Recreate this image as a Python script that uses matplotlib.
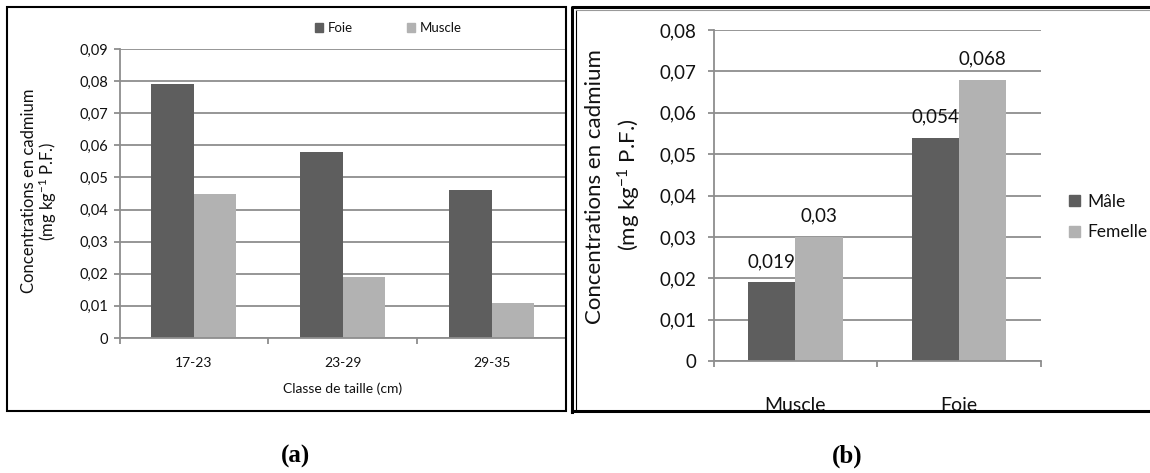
import matplotlib
matplotlib.use("Agg")
import matplotlib.pyplot as plt
from matplotlib.patches import Patch, Rectangle
from matplotlib.ticker import FuncFormatter, FixedLocator
from matplotlib.lines import Line2D

W, H = 1150, 473

# panel (a): cadmium by size class
SIZE_CLASSES = ["17-23", "23-29", "29-35"]
FOIE_A = [0.079, 0.058, 0.046]
MUSCLE_A = [0.045, 0.019, 0.011]
LEGEND_A = ["Foie", "Muscle"]

# panel (b): cadmium by sex
TISSUES = ["Muscle", "Foie"]
MALE_B = [0.019, 0.054]
FEMALE_B = [0.030, 0.068]
LEGEND_B = ["Mâle", "Femelle"]

YLABEL_1 = "Concentrations en cadmium"
YLABEL_2 = r"(mg kg$^{-1}$ P.F.)"

DARK = "#5e5e5e"
LIGHT = "#b2b2b2"
GRID = "#8e8e8e"
TXT = "#111111"

plt.rcParams["font.family"] = ["Lato", "DejaVu Sans"]
plt.rcParams["mathtext.default"] = "regular"


def px_axes(fig, left, top, right, bottom):
    return fig.add_axes([left / W, 1 - bottom / H, (right - left) / W, (bottom - top) / H])


def comma_fmt(v, pos=None):
    if abs(v) < 1e-12:
        return "0"
    return f"{v:.2f}".replace(".", ",")


def style_axes(ax, ymax, step, tick_size, ypad):
    ax.set_ylim(0, ymax)
    ax.set_yticks([i * step for i in range(int(round(ymax / step)) + 1)])
    ax.yaxis.set_major_formatter(FuncFormatter(comma_fmt))
    ax.grid(axis="y", color=GRID, linewidth=1.3)
    ax.set_axisbelow(True)
    for side in ["top", "right"]:
        ax.spines[side].set_visible(False)
    for side in ["left", "bottom"]:
        ax.spines[side].set_color(GRID)
        ax.spines[side].set_linewidth(1.3)
    ax.tick_params(axis="y", length=4, width=1.3, color=GRID, pad=ypad,
                   labelsize=tick_size, labelcolor=TXT)
    ax.tick_params(axis="x", which="major", length=0)
    ax.tick_params(axis="x", which="minor", length=4, width=1.3, color=GRID)


def main():
    fig = plt.figure(figsize=(W / 100, H / 100), dpi=100)

    # ---- panel (a)
    ax_a = px_axes(fig, 119.5, 49, 566, 338)
    n = len(SIZE_CLASSES)
    bw = 1 / 3.5
    xs = list(range(n))
    ax_a.bar([x - bw / 2 for x in xs], FOIE_A, width=bw, color=DARK)
    ax_a.bar([x + bw / 2 for x in xs], MUSCLE_A, width=bw, color=LIGHT)
    ax_a.set_xlim(-0.5, n - 0.5)
    style_axes(ax_a, 0.09, 0.01, 10.5, 4.3)
    ax_a.set_xticks(xs)
    ax_a.set_xticklabels(SIZE_CLASSES)
    ax_a.xaxis.set_minor_locator(FixedLocator([i + 0.5 for i in range(-1, n)]))
    ax_a.tick_params(axis="x", which="major", pad=14, labelsize=10, labelcolor=TXT)
    ax_a.set_xlabel("Classe de taille (cm)", fontsize=10, color=TXT)
    ax_a.xaxis.set_label_coords(0.5, -(389 - 338) / 289)
    ax_a.xaxis.label.set_va("center")

    handles_a = [Patch(color=DARK), Patch(color=LIGHT)]
    fig.legend(handles_a, LEGEND_A, loc="center", bbox_to_anchor=(388.5 / W, 1 - 28 / H),
               ncol=2, frameon=False, fontsize=9.5, handlelength=0.62, handleheight=0.62,
               handletextpad=0.35, columnspacing=4.1, borderpad=0, labelcolor=TXT)

    fig.text(29 / W, 1 - 191 / H, YLABEL_1, rotation=90, ha="center", va="center",
             fontsize=12, color=TXT)
    fig.text(48 / W, 1 - 191 / H, YLABEL_2, rotation=90, ha="center", va="center",
             fontsize=12, color=TXT)

    # ---- panel (b)
    ax_b = px_axes(fig, 713.5, 30, 1041, 361)
    m = len(TISSUES)
    bw_b = 0.288
    xs_b = list(range(m))
    bars_m = ax_b.bar([x - bw_b / 2 for x in xs_b], MALE_B, width=bw_b, color=DARK)
    bars_f = ax_b.bar([x + bw_b / 2 for x in xs_b], FEMALE_B, width=bw_b, color=LIGHT)
    ax_b.set_xlim(-0.5, m - 0.5)
    style_axes(ax_b, 0.08, 0.01, 13.5, 8.0)
    ax_b.set_xticks(xs_b)
    ax_b.set_xticklabels(TISSUES)
    ax_b.xaxis.set_minor_locator(FixedLocator([i + 0.5 for i in range(-1, m)]))
    ax_b.tick_params(axis="x", which="major", pad=26, labelsize=14, labelcolor=TXT)

    for bars, vals in [(bars_m, MALE_B), (bars_f, FEMALE_B)]:
        for b, v in zip(bars, vals):
            label = f"{v:g}".replace(".", ",")
            ax_b.annotate(label, (b.get_x() + b.get_width() / 2, v), xytext=(0, 15),
                          textcoords="offset points", ha="center", va="center",
                          fontsize=13.5, color=TXT)

    handles_b = [Patch(color=DARK), Patch(color=LIGHT)]
    fig.legend(handles_b, LEGEND_B, loc="center left",
               bbox_to_anchor=(1069 / W, 1 - 217 / H), frameon=False, fontsize=12.5,
               handlelength=0.63, handleheight=0.63, handletextpad=0.4,
               labelspacing=0.85, borderpad=0, borderaxespad=0, labelcolor=TXT)

    fig.text(595 / W, 1 - 187 / H, YLABEL_1, rotation=90, ha="center", va="center",
             fontsize=16, color=TXT)
    fig.text(629 / W, 1 - 185 / H, YLABEL_2, rotation=90, ha="center", va="center",
             fontsize=16, color=TXT)

    # ---- frames drawn on top, in pixel coordinates
    ov = fig.add_axes([0, 0, 1, 1], zorder=10)
    ov.set_xlim(0, W)
    ov.set_ylim(H, 0)
    ov.axis("off")
    ov.patch.set_alpha(0)
    ov.add_patch(Rectangle((7, 7), 559, 404, fill=False, edgecolor="black", linewidth=1.5))
    # white strip below frame (b) hides the lower part of the tick labels
    ov.add_patch(Rectangle((572, 411), W - 572, 20, facecolor="white", edgecolor="none"))
    ov.add_line(Line2D([572, 572, W], [412, 7, 7], color="black", linewidth=2.2))
    ov.add_line(Line2D([572, W], [411, 411], color="black", linewidth=2.2))
    ov.add_line(Line2D([576, 576], [409, 10], color="black", linewidth=0.8))
    ov.add_line(Line2D([576, W], [10.5, 10.5], color="#9a9a9a", linewidth=0.8))

    fig.text(296 / W, 1 - 456 / H, "(a)", ha="center", va="center", fontsize=18,
             fontweight="bold", family="Liberation Serif")
    fig.text(847 / W, 1 - 456 / H, "(b)", ha="center", va="center", fontsize=18,
             fontweight="bold", family="Liberation Serif")

    fig.savefig("out.png", dpi=100)


if __name__ == "__main__":
    main()
